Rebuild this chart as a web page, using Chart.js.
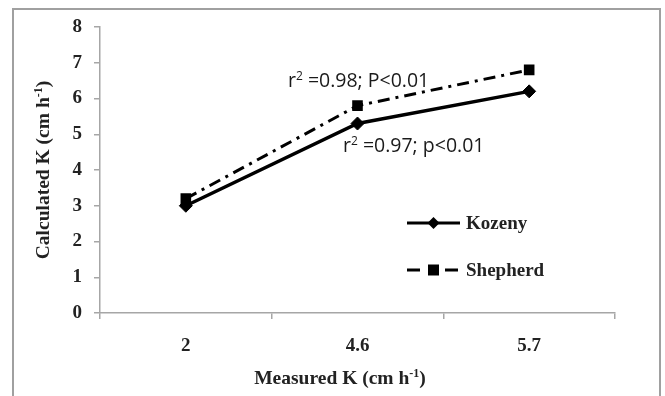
<!DOCTYPE html>
<html><head><meta charset="utf-8">
<script src="https://cdn.jsdelivr.net/npm/chart.js@4.4.0/dist/chart.umd.min.js"></script>
<style>html,body{margin:0;padding:0;background:#fff}#wrap{width:665px;height:396px}</style>
</head><body><div id="wrap"><canvas id="c" width="665" height="396"></canvas></div>
<script>
const categories = ['2', '4.6', '5.7'];
const kozeny = [3.0, 5.3, 6.2];
const shepherd = [3.2, 5.8, 6.8];
const yTicks = [0, 1, 2, 3, 4, 5, 6, 7, 8];
const seriesNames = ['Kozeny', 'Shepherd'];
const annotations = ['r|2| =0.98; P<0.01', 'r|2| =0.97; p<0.01'];

const SERIF = 'bold 19px "Liberation Serif", "Times New Roman", serif';
const AXIS = '#a6a6a6';

function rich(ctx, str, x, y, size, family, weight, align) {
  const parts = str.split('|');
  const fontN = weight + ' ' + size + 'px ' + family;
  const fontS = weight + ' ' + Math.round(size * 0.62) + 'px ' + family;
  let w = 0;
  parts.forEach((p, i) => { ctx.font = i % 2 ? fontS : fontN; w += ctx.measureText(p).width; });
  let cx = align === 'center' ? x - w / 2 : x;
  ctx.textBaseline = 'alphabetic';
  ctx.textAlign = 'left';
  parts.forEach((p, i) => {
    ctx.font = i % 2 ? fontS : fontN;
    ctx.fillText(p, cx, i % 2 ? y - size * 0.38 : y);
    cx += ctx.measureText(p).width;
  });
}

const deco = {
  id: 'deco',
  beforeDraw(chart) {
    const ctx = chart.ctx;
    ctx.save();
    ctx.strokeStyle = '#a0a0a0';
    ctx.lineWidth = 2;
    ctx.beginPath();
    ctx.moveTo(13, 396); ctx.lineTo(13, 9); ctx.lineTo(660, 9); ctx.lineTo(660, 396);
    ctx.stroke();
    ctx.restore();
  },
  afterDraw(chart) {
    const ctx = chart.ctx;
    const ds = chart.data.datasets;
    ctx.save();
    ctx.fillStyle = '#222';
    rich(ctx, 'Measured K (cm h|-1|)', 340, 384, 19.5, '"Liberation Serif", serif', 'bold', 'center');
    ctx.save();
    ctx.translate(49, 170);
    ctx.rotate(-Math.PI / 2);
    rich(ctx, 'Calculated K (cm h|-1|)', 0, 0, 19.5, '"Liberation Serif", serif', 'bold', 'center');
    ctx.restore();
    ctx.fillStyle = '#1a1a1a';
    rich(ctx, annotations[0], 288, 87, 19.5, '"Open Sans", sans-serif', 'normal', 'left');
    rich(ctx, annotations[1], 343, 152, 19.5, '"Open Sans", sans-serif', 'normal', 'left');
    const rows = [223, 270];
    ds.forEach((d, i) => {
      const y = rows[i];
      ctx.strokeStyle = '#000';
      ctx.lineWidth = 3;
      ctx.beginPath();
      if (i === 0) {
        ctx.moveTo(407, y); ctx.lineTo(460, y);
      } else {
        ctx.moveTo(407, y); ctx.lineTo(420, y);
        ctx.moveTo(445, y); ctx.lineTo(458, y);
      }
      ctx.stroke();
      ctx.fillStyle = '#000';
      ctx.beginPath();
      if (i === 0) {
        ctx.moveTo(433.5, y - 6); ctx.lineTo(439.5, y); ctx.lineTo(433.5, y + 6); ctx.lineTo(427.5, y);
        ctx.closePath();
      } else {
        ctx.rect(428, y - 5.5, 11, 11);
      }
      ctx.fill();
      ctx.fillStyle = '#222';
      ctx.font = SERIF;
      ctx.textBaseline = 'middle';
      ctx.textAlign = 'left';
      ctx.fillText(d.label, 466, y + 1);
    });
    ctx.restore();
  }
};

new Chart(document.getElementById('c'), {
  type: 'line',
  data: {
    labels: categories,
    datasets: [
      { label: seriesNames[0], data: kozeny, borderColor: '#000', backgroundColor: '#000',
        borderWidth: 3.5, pointStyle: 'rectRot', pointRadius: 6.5, pointBorderWidth: 1,
        pointBackgroundColor: '#000', tension: 0 },
      { label: seriesNames[1], data: shepherd, borderColor: '#000', backgroundColor: '#000',
        borderWidth: 3, borderDash: [12, 6, 3, 6], pointStyle: 'rect', pointRadius: 7.5,
        pointBorderWidth: 0, pointBackgroundColor: '#000', tension: 0 }
    ]
  },
  options: {
    responsive: false,
    animation: false,
    devicePixelRatio: 1,
    layout: { padding: { top: 27, right: 50, left: 0, bottom: 0 } },
    plugins: { legend: { display: false }, tooltip: { enabled: false } },
    scales: {
      x: {
        type: 'category',
        offset: true,
        grid: { offset: true, drawOnChartArea: false, tickLength: 6, color: AXIS, lineWidth: 1.5 },
        border: { color: AXIS, width: 1.5 },
        ticks: { font: { family: '"Liberation Serif", serif', size: 19, weight: 'bold' }, color: '#222', padding: 16 },
        afterFit(s) { s.height = 83; }
      },
      y: {
        min: 0, max: 8,
        afterBuildTicks(s) { s.ticks = yTicks.map(v => ({ value: v })); },
        grid: { drawOnChartArea: false, tickLength: 6, color: AXIS, lineWidth: 1.5 },
        border: { color: AXIS, width: 1.5 },
        ticks: { font: { family: '"Liberation Serif", serif', size: 19, weight: 'bold' }, color: '#222', padding: 12 },
        afterFit(s) { s.width = 100; }
      }
    }
  },
  plugins: [deco]
});
</script></body></html>
